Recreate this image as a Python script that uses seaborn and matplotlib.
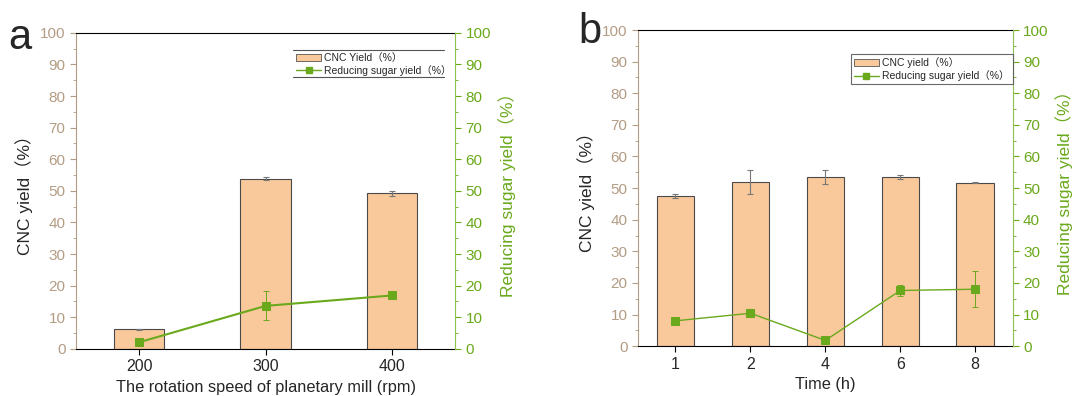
import numpy as np
import pandas as pd
import matplotlib
matplotlib.use("Agg")
import matplotlib.pyplot as plt
import seaborn as sns
from matplotlib.ticker import MultipleLocator
from matplotlib.lines import Line2D
from matplotlib.patches import Patch

# ------------------------------------------
# Data
# ------------------------------------------
speed = ["200", "300", "400"]
cnc_a = [6.2, 53.8, 49.3]
cnc_a_err = [0.2, 0.5, 0.8]
sugar_a = [2.1, 13.6, 16.9]
sugar_a_err = [0.4, 4.6, 0.3]

time_h = ["1", "2", "4", "6", "8"]
cnc_b = [47.6, 51.8, 53.5, 53.5, 51.7]
cnc_b_err = [0.6, 3.8, 2.1, 0.5, 0.1]
sugar_b = [8.0, 10.4, 1.8, 17.6, 18.0]
sugar_b_err = [0.3, 0.4, 0.3, 1.7, 5.7]

BAR = "#f9c89b"
TAN = "#b39c84"
GREEN = "#6aa91c"
GREEN_AX = "#8fc24d"
FAM = ["Liberation Sans", "Noto Sans CJK SC", "DejaVu Sans"]

sns.set_style("ticks")
plt.rcParams["font.family"] = FAM

fig = plt.figure(figsize=(10.86, 3.96), dpi=100)
ax_a = fig.add_axes([0.070, 0.119, 0.349, 0.798])
ax_b = fig.add_axes([0.5875, 0.126, 0.345, 0.798])


def panel(ax, cats, cnc, cnc_err, sugar, sugar_err, bar_w, line_w, xlabel,
          letter, letter_xy, leg_label, leg_xy, leg_frame):
    df = pd.DataFrame({"x": cats, "cnc": cnc, "sugar": sugar})
    sns.barplot(data=df, x="x", y="cnc", color=BAR, width=bar_w, saturation=1,
                edgecolor="#4a4a4a", linewidth=0.8, ax=ax, zorder=2)
    pos = np.arange(len(cats))
    ax.errorbar(pos, cnc, yerr=cnc_err, fmt="none", ecolor="#777777",
                elinewidth=0.8, capsize=2, capthick=0.8, zorder=3)
    ax.set_ylim(0, 100)
    ax.set_xlim(-0.5, len(cats) - 0.5)
    ax.yaxis.set_major_locator(MultipleLocator(10))
    ax.yaxis.set_minor_locator(MultipleLocator(5))
    ax.tick_params(axis="y", which="both", colors=TAN, labelsize=11, direction="out")
    ax.tick_params(axis="y", which="major", length=4)
    ax.tick_params(axis="y", which="minor", length=2.5)
    ax.tick_params(axis="x", labelsize=11.5, length=4, color="black")
    ax.spines["left"].set_color(TAN)
    ax.spines["bottom"].set_color("black")
    ax.spines["top"].set_color("black")
    ax.spines["right"].set_visible(False)
    ax.set_xlabel(xlabel, fontsize=11.8, labelpad=4)
    ax.set_ylabel("CNC yield（%）", fontsize=12.5, labelpad=5)

    ax2 = ax.twinx()
    sns.lineplot(x=pos, y=sugar, color=GREEN, linewidth=line_w, marker="s",
                 markersize=6, markeredgecolor=GREEN, ax=ax2, zorder=4)
    ax2.errorbar(pos, sugar, yerr=sugar_err, fmt="none", ecolor=GREEN,
                 elinewidth=0.7, capsize=2.5, capthick=0.7, zorder=4)
    ax2.set_ylim(0, 100)
    ax2.set_xlim(-0.5, len(cats) - 0.5)
    ax2.yaxis.set_major_locator(MultipleLocator(10))
    ax2.yaxis.set_minor_locator(MultipleLocator(5))
    ax2.tick_params(axis="y", which="both", colors=GREEN, labelsize=11, direction="out")
    ax2.tick_params(axis="y", which="major", length=4)
    ax2.tick_params(axis="y", which="minor", length=2.5)
    for s in ["left", "top", "bottom"]:
        ax2.spines[s].set_visible(False)
    ax2.spines["right"].set_visible(True)
    ax2.spines["right"].set_color(GREEN_AX)
    ax2.set_ylabel("Reducing sugar yield（%）", fontsize=12.5, color=GREEN, labelpad=5)

    handles = [Patch(facecolor=BAR, edgecolor="#555555", linewidth=0.6),
               Line2D([0], [0], color=GREEN, marker="s", markersize=5, linewidth=1)]
    leg = ax2.legend(handles, [leg_label, "Reducing sugar yield（%）"],
                     loc="upper left", bbox_to_anchor=leg_xy, borderaxespad=0,
                     prop={"size": 7.5}, frameon=True, fancybox=False,
                     handlelength=2.4, handletextpad=0.3, borderpad=0.3,
                     labelspacing=0.2)
    leg.get_frame().set_edgecolor("#444444")
    leg.get_frame().set_linewidth(0.8)
    if not leg_frame:
        leg.get_frame().set_visible(False)
        for yy in (0.946, 0.861):
            ax2.add_line(Line2D([0.573, 0.971], [yy, yy], transform=ax2.transAxes,
                                color="#555555", lw=0.8, clip_on=False))

    ax.text(letter_xy[0], letter_xy[1], letter, transform=ax.transAxes,
            fontsize=30, va="center", ha="left", family="Liberation Sans")


panel(ax_a, speed, cnc_a, cnc_a_err, sugar_a, sugar_a_err, 0.4, 1.5,
      "The rotation speed of planetary mill (rpm)", "a", (-0.18, 0.985),
      "CNC Yield（%）", (0.573, 0.946), False)
panel(ax_b, time_h, cnc_b, cnc_b_err, sugar_b, sugar_b_err, 0.5, 1.0,
      "Time (h)", "b", (-0.16, 0.995),
      "CNC yield（%）", (0.568, 0.924), True)

fig.savefig("out.png", dpi=100)
